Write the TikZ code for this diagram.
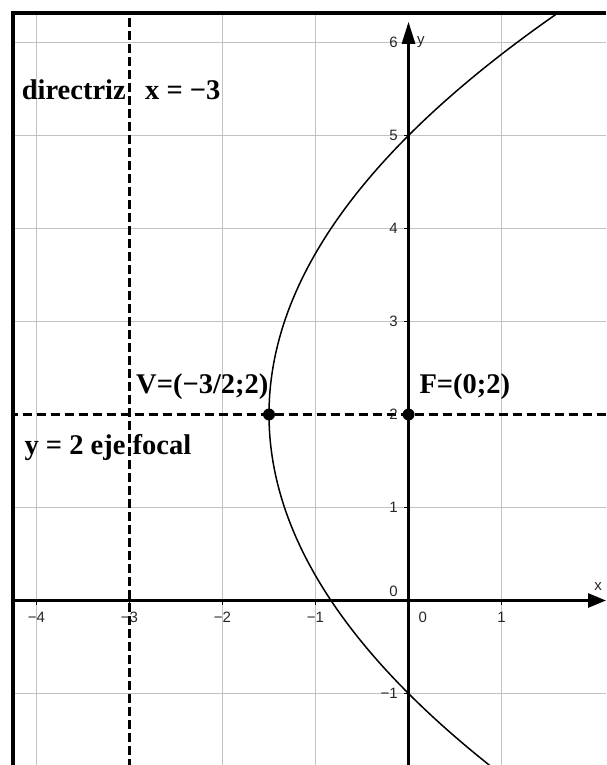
\documentclass[tikz,border=0pt]{standalone}
\usepackage{fontspec}
\setmainfont{Liberation Serif}
\newfontfamily\axisfont{Liberation Sans}
\usetikzlibrary{arrows.meta}
\begin{document}
\begin{tikzpicture}[x=93pt,y=93pt,
  gridline/.style={draw=black!24, line width=1.4pt},
  axisline/.style={line width=2.6pt, draw=black},
  dashv/.style={line width=2.8pt, dash pattern=on 9pt off 4pt},
  dashh/.style={line width=2.3pt, dash pattern=on 9pt off 5pt},
  ticklab/.style={font=\axisfont\fontsize{15}{16}\selectfont, inner sep=0pt, text=black!85},
  biglab/.style={font=\bfseries\fontsize{28.5}{30}\selectfont, inner sep=0pt, anchor=base west},
  dot/.style={circle, fill=black, inner sep=0pt, minimum size=12pt}]
\useasboundingbox (-4.3925,-1.7688) rectangle (2.1237,6.457);
\coordinate (BL) at (-4.253,-1.769);
\coordinate (TL) at (-4.253,6.317);
\coordinate (TR) at (2.124,6.317);
\begin{scope}
\clip (BL) rectangle (TR);
\foreach \x in {-4,-2,-1,1} \draw[gridline] (\x,-1.8) -- (\x,6.4);
\foreach \y in {-1,1,3,4,5,6} \draw[gridline] (-4.3,\y) -- (2.2,\y);
\coordinate (dvb) at (-3,-1.8); \coordinate (dvt) at (-3,6.4);
\draw[dashv] (dvb) -- (dvt);
\coordinate (dhl) at (-4.3,2); \coordinate (dhr) at (2.2,2);
\draw[dashh] (dhl) -- (dhr);
\draw[line width=1.5pt, domain=-3.85:4.4, samples=120, smooth, variable=\t] plot ({\t*\t/6-1.5},{\t+2});
\end{scope}
% axes
\coordinate (xs) at (-4.253,0); \coordinate (xe) at (2.124,0);
\draw[axisline, -{Triangle[length=18pt,width=14pt]}] (xs) -- (xe);
\coordinate (ys) at (0,-1.769); \coordinate (ye) at (0,6.223);
\draw[axisline, -{Triangle[length=22pt,width=13pt]}] (ys) -- (ye);
\foreach \x in {-4,-3,-2,-1,1} \draw[line width=1.2pt] (\x,0) -- (\x,-0.05);
\foreach \y in {-1,1,2,3,4,5,6} \draw[line width=1.2pt] (0,\y) -- (-0.05,\y);
% tick labels
\foreach \x/\t/\n in {-4/−4/a,-3/−3/b,-2/−2/c,-1/−1/d,1/1/e}
  \node[ticklab, anchor=north] (xl\n) at (\x,-0.12) {\t};
\node[ticklab, anchor=north] (xl0) at (0.155,-0.12) {0};
\foreach \y/\t/\n in {-1/−1/a,1/1/b,2/2/c,3/3/d,4/4/e,5/5/f,6/6/g}
  \node[ticklab, anchor=east] (yl\n) at (-0.115,\y) {\t};
\node[ticklab, anchor=south east] (yl0) at (-0.115,0.04) {0};
\node[ticklab] (xname) at (2.04,0.15) {x};
\node[ticklab, anchor=west] (yname) at (0.09,6.0) {y};
% labels
\node[biglab] (dir) at (-4.16,5.382) {directriz};
\node[biglab] (xeq) at (-2.833,5.382) {x = −3};
\node[biglab] (vlab) at (-2.93,2.231) {V=(−3/2;2)};
\node[biglab] (flab) at (0.117,2.231) {F=(0;2)};
\node[biglab] (ylab) at (-4.13,1.565) {y = 2 eje focal};
% points
\node[dot] (V) at (-1.5,2) {};
\node[dot] (F) at (0,2) {};
% border
\draw[line width=4pt] (BL) -- (TL) -- (TR);
\end{tikzpicture}
\end{document}
